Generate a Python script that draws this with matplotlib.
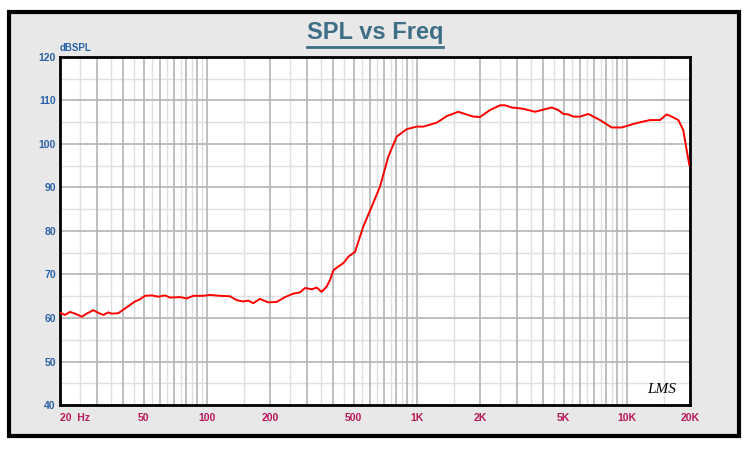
import numpy as np
import matplotlib
matplotlib.use('Agg')
import matplotlib.pyplot as plt
from matplotlib.patches import Rectangle
from matplotlib.lines import Line2D

# frequency response (Hz, dBSPL)
freq = [20, 21.1, 22.3, 23.6, 25.4, 26.8, 28.8, 30.4, 32.2, 34, 35.2, 37.9,
        40, 43.1, 45.5, 48.1, 50.8, 54.7, 58.8, 63.2, 66.8, 74.6, 80.2, 86.3,
        96.3, 103.6, 115.6, 129, 138.8, 149, 157.6, 166.6, 179, 196, 215, 236,
        258, 278, 294, 316, 334, 352, 372, 386, 401, 431, 447, 472, 508, 556,
        610, 668, 732, 802, 895, 999, 1075, 1245, 1388, 1576, 1858, 2000, 2232,
        2490, 2630, 2830, 3216, 3656, 4006, 4390, 4720, 4988, 5268, 5560, 5986,
        6558, 7456, 8474, 9460, 10740, 11560, 12900, 14390, 15480, 16360,
        17600, 18580, 19280, 19850]
spl = [61.2, 60.7, 61.4, 61.0, 60.3, 61.0, 61.8, 61.2, 60.7, 61.3, 61.0, 61.1,
       61.9, 63.0, 63.8, 64.3, 65.1, 65.2, 64.9, 65.2, 64.7, 64.8, 64.5, 65.1,
       65.1, 65.3, 65.1, 65.0, 64.1, 63.8, 64.0, 63.4, 64.4, 63.6, 63.7, 64.8,
       65.6, 65.9, 66.9, 66.6, 67.0, 66.0, 67.2, 68.7, 71.0, 72.1, 72.6, 74.1,
       75.2, 81.0, 85.6, 90.2, 97.1, 101.7, 103.4, 104.0, 104.0, 104.9, 106.4,
       107.4, 106.3, 106.2, 107.8, 108.9, 108.9, 108.4, 108.1, 107.4, 107.9,
       108.4, 107.8, 106.9, 106.8, 106.3, 106.3, 106.9, 105.5, 103.8, 103.8,
       104.6, 105.0, 105.5, 105.5, 106.8, 106.3, 105.5, 103.2, 98.6, 95.2]

xtick_vals = [20, 50, 100, 200, 500, 1000, 2000, 5000, 10000, 20000]
xtick_labels = ['20  Hz', '50', '100', '200', '500', '1K', '2K', '5K', '10K', '20K']
ytick_vals = [40, 50, 60, 70, 80, 90, 100, 110, 120]

sans = ['Liberation Sans', 'DejaVu Sans']

fig = plt.figure(figsize=(7.5, 4.49), dpi=100)
fig.patch.set_facecolor('white')

# grey panel with black border, behind the axes
panel = Rectangle((9 / 750, 1 - 436 / 449), 730 / 750, 424 / 449,
                  transform=fig.transFigure, facecolor='#e8e8e8',
                  edgecolor='black', lw=3, zorder=-10)
fig.patches.append(panel)

ax = fig.add_axes([60 / 750, 1 - 405 / 449, 630 / 750, 348 / 449])
ax.set_zorder(1)
ax.set_facecolor('white')
ax.set_xscale('log')
ax.set_xlim(20, 20000)
ax.set_ylim(40, 120)

# grid: mid grey at integer multiples, light grey at the half steps
for dec in [10, 100, 1000, 10000]:
    for m in range(1, 10):
        f = m * dec
        if 20 < f < 20000:
            ax.axvline(f, color='#b4b4b4', lw=1.2, zorder=1)
        fh = (m + 0.5) * dec
        if 20 < fh < 20000:
            ax.axvline(fh, color='#e0e0e0', lw=1.0, zorder=0.9)
for v in range(50, 120, 10):
    ax.axhline(v, color='#b4b4b4', lw=1.2, zorder=1)
for v in range(45, 120, 10):
    ax.axhline(v, color='#e0e0e0', lw=1.0, zorder=0.9)

ax.plot(freq, spl, color='#ff0000', lw=1.4, zorder=3)

for s in ax.spines.values():
    s.set_color('black')
    s.set_linewidth(2)

ax.set_xticks(xtick_vals)
ax.set_xticklabels(xtick_labels)
ax.xaxis.set_minor_locator(matplotlib.ticker.NullLocator())
ax.set_yticks(ytick_vals)
ax.tick_params(length=0)
ax.tick_params(axis='x', pad=6, labelsize=7.5, labelcolor='#b8185a')
ax.tick_params(axis='y', pad=3, labelsize=7.5, labelcolor='#2a62a8')
for lab in ax.get_xticklabels() + ax.get_yticklabels():
    lab.set_fontweight('bold')
    lab.set_family(sans)
ax.get_xticklabels()[0].set_horizontalalignment('left')

ax.text(0.0, 1.012, 'dBSPL', transform=ax.transAxes, ha='left', va='bottom',
        fontsize=7, fontweight='bold', color='#2a62a8', family=sans)

ax.text(0.955, 0.045, 'LMS', transform=ax.transAxes, ha='center',
        va='center', fontsize=11, fontstyle='italic', color='black',
        family=['Liberation Serif', 'DejaVu Serif'])

# underlined title
title = fig.text(0.5, 1 - 33 / 449, 'SPL vs Freq', ha='center', va='center',
                 fontsize=17, fontweight='bold', color='#3f6f86', family=sans)
fig.canvas.draw()
bb = title.get_window_extent().transformed(fig.transFigure.inverted())
fig.lines.append(Line2D([bb.x0, bb.x1], [bb.y0 - 0.006, bb.y0 - 0.006],
                        transform=fig.transFigure, color='#3f6f86', lw=2))

fig.savefig('out.png', dpi=100, facecolor=fig.get_facecolor())
